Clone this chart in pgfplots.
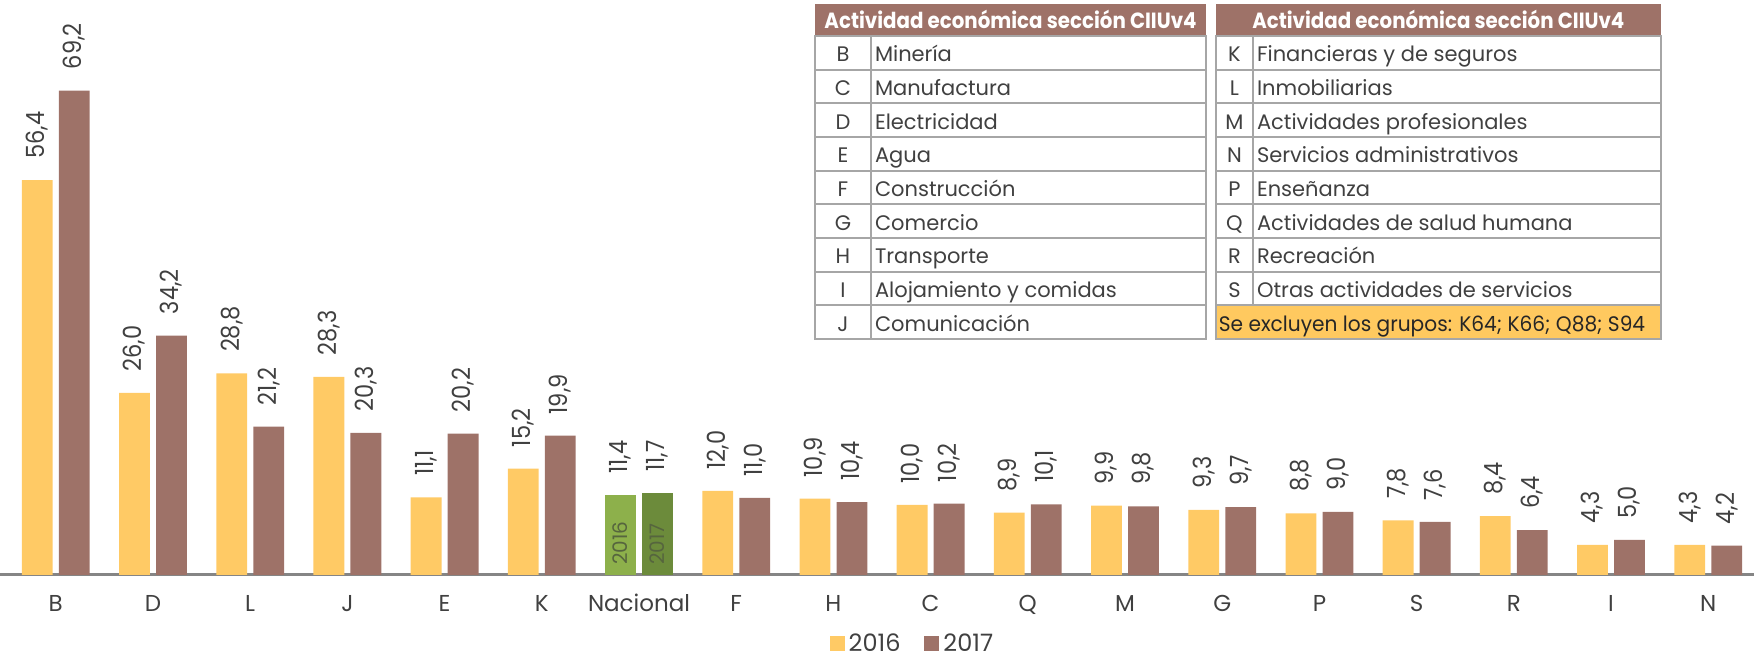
\documentclass[border=0pt]{standalone}
\usepackage{fontspec}
\setmainfont{Poppins}
\usepackage{pgfplots}
\pgfplotsset{compat=1.18}
\definecolor{yel}{HTML}{FFCA65}
\definecolor{brn}{HTML}{9E7268}
\definecolor{grnA}{HTML}{8DB04B}
\definecolor{grnB}{HTML}{6C8B3B}
\definecolor{axisgray}{HTML}{858585}
\definecolor{txt}{HTML}{404040}
\definecolor{innertxt}{HTML}{56653E}
\definecolor{tblline}{HTML}{A6A6A6}
\definecolor{tblyel}{HTML}{FFC95F}
\begin{document}
\begin{tikzpicture}
\begin{axis}[
  at={(0,0)}, anchor=south west,
  x=48.6pt, y=3.5pt,
  xmin=-0.574, xmax=17.47, ymin=0, ymax=82.14,
  axis x line*=bottom, axis y line=none,
  x axis line style={-, draw=axisgray, line width=1.5pt},
  xtick={0,...,17},
  xticklabels={B,D,L,J,E,K,Nacional,F,H,C,Q,M,G,P,S,R,I,N},
  major tick length=0pt,
  xticklabel style={font=\fontsize{11.5}{12}\selectfont, text=txt, anchor=base, yshift=-18.3pt, inner sep=0pt},
  ybar, bar width=15.4pt, clip=false,
  nodes near coords={\scalebox{0.9}[1]{\pgfmathprintnumber{\pgfplotspointmeta}}},
  every node near coord/.append style={rotate=90, anchor=west, inner xsep=10.5pt, inner ysep=0pt, font=\fontsize{12.5}{13}\selectfont, text=txt},
  /pgf/number format/assume math mode=true,
  /pgf/number format/use comma,
  /pgf/number format/fixed,
  /pgf/number format/fixed zerofill,
  /pgf/number format/precision=1,
  legend style={at={(0.5208,-0.1195)}, anchor=center, draw=none, fill=none, legend columns=2, font=\fontsize{12}{13}\selectfont, text=txt, /tikz/every even column/.append style={column sep=10pt}},
  legend image code/.code={\fill[#1] (0pt,-3.5pt) rectangle (7.5pt,4pt);},
]
\addplot[fill=yel, draw=none, bar shift=-9.25pt] coordinates {
 (0,56.4) (1,26.0) (2,28.8) (3,28.3) (4,11.1) (5,15.2)
 (7,12.0) (8,10.9) (9,10.0) (10,8.9) (11,9.9) (12,9.3) (13,8.8) (14,7.8) (15,8.4) (16,4.3) (17,4.3)};
\addplot[fill=brn, draw=none, bar shift=9.25pt] coordinates {
 (0,69.2) (1,34.2) (2,21.2) (3,20.3) (4,20.2) (5,19.9)
 (7,11.0) (8,10.4) (9,10.2) (10,10.1) (11,9.8) (12,9.7) (13,9.0) (14,7.6) (15,6.4) (16,5.0) (17,4.2)};
\addplot[fill=grnA, draw=none, bar shift=-9.25pt, forget plot] coordinates {(6,11.4)};
\addplot[fill=grnB, draw=none, bar shift=9.25pt, forget plot] coordinates {(6,11.7)};
\legend{2016,2017}
\node[font=\fontsize{10}{11}\selectfont, text=innertxt, xshift=-9.25pt, yshift=5pt, rotate=90, anchor=west, inner sep=0pt] at (axis cs:6,0) {2016};
\node[font=\fontsize{10}{11}\selectfont, text=innertxt, xshift=9.25pt, yshift=5pt, rotate=90, anchor=west, inner sep=0pt] at (axis cs:6,0) {2017};
\end{axis}
% ---- tables ----
% left table
\fill[brn] (407.5pt,269.5pt) rectangle (603pt,285.5pt);
\node[font=\bfseries\fontsize{11}{12}\selectfont, text=white, anchor=base, inner sep=0pt] at (505.25pt,273.3pt) {\scalebox{0.9}[1]{Actividad económica sección CIIUv4}};
\foreach \l/\t [count=\i] in {B/Minería,C/Manufactura,D/Electricidad,E/Agua,F/Construcción,G/Comercio,H/Transporte,I/Alojamiento y comidas,J/Comunicación}{
  \pgfmathsetmacro{\yb}{269.5-\i*16.83}
  \draw[tblline, line width=1pt] (407.5pt,\yb pt) rectangle (603pt,\yb pt+16.83pt);
  \draw[tblline, line width=1pt] (435.5pt,\yb pt) -- (435.5pt,\yb pt+16.83pt);
  \node[font=\fontsize{10.5}{12}\selectfont, text=txt, anchor=base, inner sep=0pt] at (421.5pt,\yb pt+3.9pt) {\l};
  \node[font=\fontsize{10.5}{12}\selectfont, text=txt, anchor=base west, inner sep=0pt] at (437.3pt,\yb pt+3.9pt) {\t};
}
% right table
\fill[brn] (608pt,269.5pt) rectangle (830.3pt,285.5pt);
\node[font=\bfseries\fontsize{11}{12}\selectfont, text=white, anchor=base, inner sep=0pt] at (719.15pt,273.3pt) {\scalebox{0.9}[1]{Actividad económica sección CIIUv4}};
\foreach \l/\t [count=\i] in {K/Financieras y de seguros,L/Inmobiliarias,M/Actividades profesionales,N/Servicios administrativos,P/Enseñanza,Q/Actividades de salud humana,R/Recreación,S/Otras actividades de servicios}{
  \pgfmathsetmacro{\yb}{269.5-\i*16.83}
  \draw[tblline, line width=1pt] (608pt,\yb pt) rectangle (830.3pt,\yb pt+16.83pt);
  \draw[tblline, line width=1pt] (626.5pt,\yb pt) -- (626.5pt,\yb pt+16.83pt);
  \node[font=\fontsize{10.5}{12}\selectfont, text=txt, anchor=base, inner sep=0pt] at (617.25pt,\yb pt+3.9pt) {\l};
  \node[font=\fontsize{10.5}{12}\selectfont, text=txt, anchor=base west, inner sep=0pt] at (628.3pt,\yb pt+3.9pt) {\t};
}
\pgfmathsetmacro{\yb}{269.5-9*16.83}
\draw[tblline, line width=1pt, fill=tblyel] (608pt,\yb pt) rectangle (830.3pt,\yb pt+16.83pt);
\node[font=\fontsize{10.5}{12}\selectfont, text=black!85, anchor=base west, inner sep=0pt] at (609.2pt,\yb pt+3.9pt) {\scalebox{0.96}[1]{Se excluyen los grupos: K64; K66; Q88; S94}};
\pgfresetboundingbox
\path (0pt,-40.5pt) rectangle (877pt,287.5pt);
\end{tikzpicture}
\end{document}
